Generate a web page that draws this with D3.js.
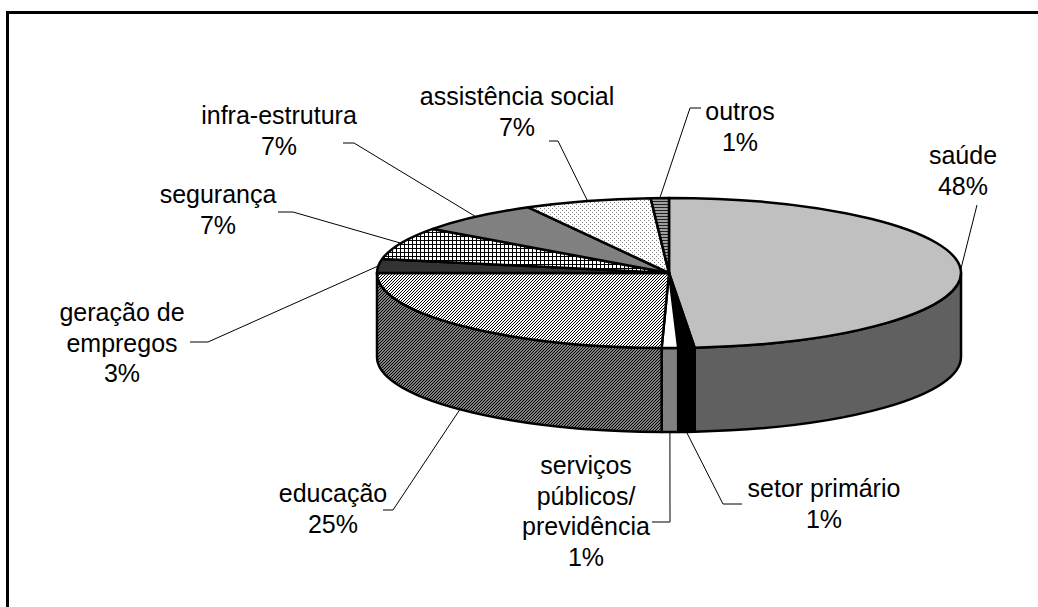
<!DOCTYPE html>
<html>
<head>
<meta charset="utf-8">
<script src="https://cdn.jsdelivr.net/npm/d3@7"></script>
<style>
  html, body { margin: 0; padding: 0; background: #fff; overflow: hidden; }
  #chart { width: 1038px; height: 607px; }
</style>
</head>
<body>
<div id="chart"></div>
<script>
// slices, clockwise from 12 o'clock
const categories = ['saúde', 'setor primário', 'serviços públicos/ previdência', 'educação',
  'geração de empregos', 'segurança', 'infra-estrutura', 'assistência social', 'outros'];
const values = [48.6, 0.9, 0.9, 24.6, 3.0, 7.0, 7.0, 7.0, 1.0];
const pctLabels = ['48%', '1%', '1%', '25%', '3%', '7%', '7%', '7%', '1%'];
const labelLines = [
  ['saúde'], ['setor primário'], ['serviços', 'públicos/', 'previdência'], ['educação'],
  ['geração de', 'empregos'], ['segurança'], ['infra-estrutura'], ['assistência social'], ['outros']
];

const W = 1038, H = 607;
const cx = 669, cy = 273, rx = 292, ry = 75, depth = 84;
const fontSize = 25, lineH = 30.5;

// label placement: centre x, first baseline, leader elbow + end
const labelLayout = [
  { x: 963, y: 164, leader: [[977, 205]] },
  { x: 824, y: 497, leader: [[723, 504], [742, 504]] },
  { x: 586, y: 474, leader: [[670, 522], [652, 522]] },
  { x: 333, y: 502, leader: [[393, 510], [383, 510]] },
  { x: 122, y: 321, leader: [[208, 342], [190, 342]] },
  { x: 218, y: 203, leader: [[293, 212], [278, 212]] },
  { x: 279, y: 124, leader: [[354, 143], [343, 143]] },
  { x: 517, y: 105, leader: [[558, 141], [549, 141]] },
  { x: 740, y: 120, leader: [[690, 108], [701, 108]] }
];

const svg = d3.select('#chart').append('svg')
  .attr('width', W).attr('height', H)
  .attr('viewBox', `0 0 ${W} ${H}`);

// ---- fill patterns (pixel tiles) ----
const defs = svg.append('defs');
function tilePattern(id, w, h, bg, fg, pixels) {
  const p = defs.append('pattern').attr('id', id)
    .attr('patternUnits', 'userSpaceOnUse').attr('width', w).attr('height', h);
  p.append('rect').attr('width', w).attr('height', h).attr('fill', bg);
  pixels.forEach(([px, py]) => {
    p.append('rect').attr('x', px).attr('y', py).attr('width', 1).attr('height', 1)
      .attr('fill', fg).attr('shape-rendering', 'crispEdges');
  });
}
const diag3 = [[0, 2], [1, 1], [2, 0]];
tilePattern('p-edu-top', 3, 3, '#ffffff', '#000000', diag3);
tilePattern('p-edu-side', 3, 3, '#808080', '#000000', diag3);
tilePattern('p-grid', 4, 4, '#ffffff', '#000000', [[0, 0], [1, 0], [2, 0], [3, 0], [0, 1], [0, 2], [0, 3]]);
tilePattern('p-dots', 4, 4, '#ffffff', '#808080', [[0, 0], [2, 2]]);
tilePattern('p-stripes', 4, 3, '#a0a0a0', '#202020', [[0, 0], [1, 0], [2, 0], [3, 0]]);

const topFills = ['#c0c0c0', '#000000', '#ffffff', 'url(#p-edu-top)', '#333333',
  'url(#p-grid)', '#808080', 'url(#p-dots)', 'url(#p-stripes)'];
const sideFills = ['#606060', '#000000', '#808080', 'url(#p-edu-side)', '#1a1a1a',
  'url(#p-grid)', '#404040', 'url(#p-dots)', 'url(#p-stripes)'];

// ---- frame ----
svg.append('rect').attr('x', 7.5).attr('y', 12.5).attr('width', 1200).attr('height', 800)
  .attr('fill', 'none').attr('stroke', '#000').attr('stroke-width', 3);

// ---- pie layout ----
const pie = d3.pie().sort(null).value(d => d).startAngle(0).endAngle(2 * Math.PI);
const arcs = pie(values);

const px = a => cx + rx * Math.sin(a);
const py = a => cy - ry * Math.cos(a);

function topPath(a0, a1) {
  const large = (a1 - a0) > Math.PI ? 1 : 0;
  return `M${cx},${cy} L${px(a0)},${py(a0)} A${rx},${ry} 0 ${large} 1 ${px(a1)},${py(a1)} Z`;
}
function sidePath(a0, a1) {
  const s = Math.max(a0, Math.PI / 2), e = Math.min(a1, 3 * Math.PI / 2);
  if (e <= s) return null;
  const large = (e - s) > Math.PI ? 1 : 0;
  return `M${px(s)},${py(s)} A${rx},${ry} 0 ${large} 1 ${px(e)},${py(e)}` +
    ` L${px(e)},${py(e) + depth} A${rx},${ry} 0 ${large} 0 ${px(s)},${py(s) + depth} Z`;
}

const g = svg.append('g');
arcs.forEach((d, i) => {
  const p = sidePath(d.startAngle, d.endAngle);
  if (!p) return;
  g.append('path').attr('d', p).attr('fill', sideFills[i])
    .attr('stroke', '#000').attr('stroke-width', 2.5).attr('stroke-linejoin', 'round');
});
arcs.forEach((d, i) => {
  g.append('path').attr('d', topPath(d.startAngle, d.endAngle)).attr('fill', topFills[i])
    .attr('stroke', '#000').attr('stroke-width', 2.5).attr('stroke-linejoin', 'round');
});

// ---- leaders & labels ----
arcs.forEach((d, i) => {
  const mid = (d.startAngle + d.endAngle) / 2;
  const front = mid > Math.PI / 2 && mid < 3 * Math.PI / 2;
  const start = [px(mid), py(mid) + (front ? depth : 0)];
  const pts = [start].concat(labelLayout[i].leader);
  svg.append('path').attr('d', d3.line()(pts))
    .attr('fill', 'none').attr('stroke', '#000').attr('stroke-width', 1);

  const lines = labelLines[i].concat([pctLabels[i]]);
  const t = svg.append('text')
    .attr('text-anchor', 'middle')
    .attr('font-family', '"Liberation Sans", Arial, sans-serif')
    .attr('font-size', fontSize).attr('fill', '#000');
  lines.forEach((ln, k) => {
    t.append('tspan').attr('x', labelLayout[i].x).attr('y', labelLayout[i].y + k * lineH).text(ln);
  });
});
</script>
</body>
</html>
